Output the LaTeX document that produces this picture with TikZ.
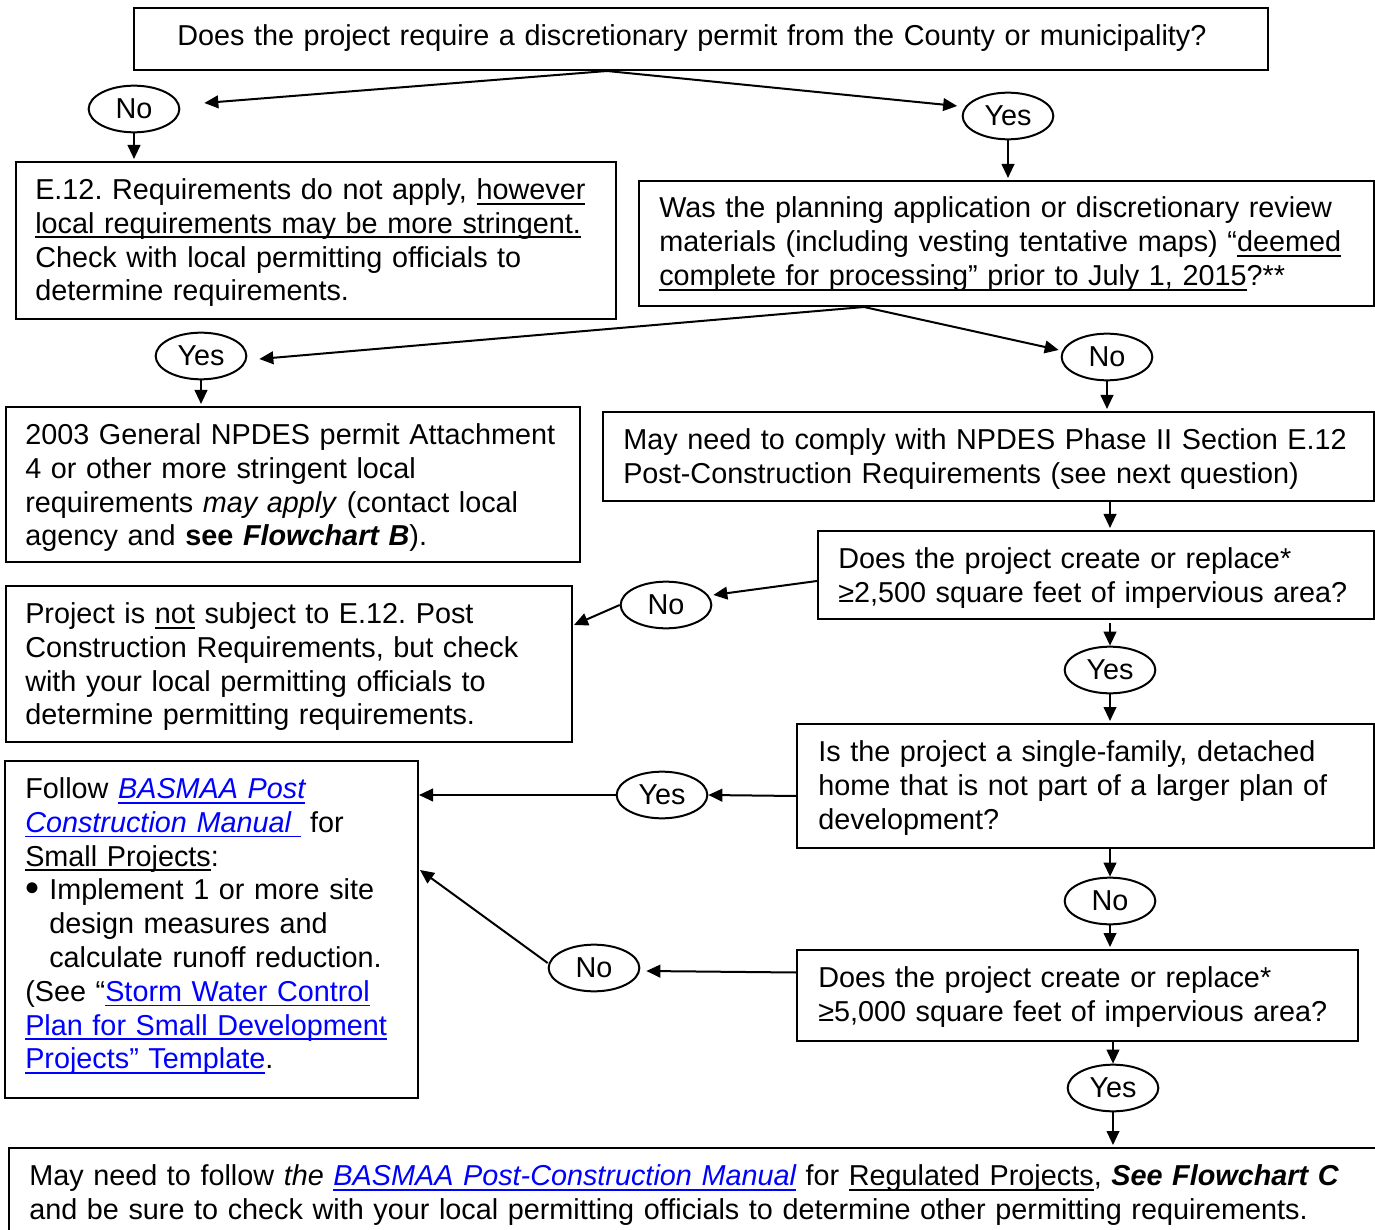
\documentclass[tikz,border=0pt]{standalone}
\usepackage{fontspec}
\setmainfont{Liberation Sans}
\usetikzlibrary{shapes.geometric,arrows.meta,calc}
\definecolor{lnk}{RGB}{0,0,255}
\newsavebox{\ulbox}
\newcommand{\undl}[1]{\leavevmode\sbox{\ulbox}{#1}\rlap{\rule[-3.8pt]{\wd\ulbox}{1.4pt}}\usebox{\ulbox}}
\newcommand{\lnk}[1]{\leavevmode{\color{lnk}\undl{#1}}}
\newcommand{\fsz}{\fontsize{21.6}{25.35}\selectfont\frenchspacing}
\newcommand{\bigbul}{\raisebox{-1.2pt}{\fontsize{30}{30}\selectfont •}}
\begin{document}
\begin{tikzpicture}[x=0.75pt,y=-0.75pt,
  bx/.style={draw, line width=1.5pt, rectangle, inner sep=0pt, anchor=north west},
  sz/.style 2 args={minimum width=#1*0.75pt, minimum height=#2*0.75pt},
  oval/.style={draw, ellipse, line width=1.5pt, minimum width=68pt, minimum height=35pt, inner sep=0pt, font=\fsz},
  txt/.style={anchor=base west, inner sep=0pt, align=left, font=\fsz, text width=#1*0.75pt},
  arr/.style={line width=1.5pt, -{Triangle[length=10.5pt,width=9.5pt]}}]
\useasboundingbox (0,0) rectangle (1375,1230);
\clip (0,0) rectangle (1375,1230);

% boxes
\node[bx, sz={1134}{62}] (q1) at (133,7) {};
\node[bx, sz={600}{157}] (e12) at (15,161) {};
\node[bx, sz={735}{125}] (was) at (638,180) {};
\node[bx, sz={574}{155}] (b2003) at (5,406) {};
\node[bx, sz={771}{89}] (may) at (602,411) {};
\node[bx, sz={556}{88}] (b2500) at (817,530) {};
\node[bx, sz={566}{156}] (proj) at (5,585) {};
\node[bx, sz={577}{124}] (single) at (796,723) {};
\node[bx, sz={561}{91}] (b5000) at (796,949) {};
\node[bx, sz={413}{337}] (follow) at (4,760) {};
\node[bx, sz={1400}{120}] (bottom) at (8,1147) {};

% texts
\node[txt=1100] (tq1) at ([shift={(44,38.5)}]q1.north west) {Does the project require a discretionary permit from the County or municipality?};
\node[txt=590] (te12) at ([shift={(20,38.5)}]e12.north west) {E.12. Requirements do not apply, \undl{however}\\
\undl{local requirements may be more stringent.}\\
Check with local permitting officials to\\
determine requirements.};
\node[txt=715] (twas) at ([shift={(21,38)}]was.north west) {Was the planning application or discretionary review\\
materials (including vesting tentative maps) “\undl{deemed}\\
\undl{complete for processing” prior to July 1, 2015}?**};
\node[txt=560] (t2003) at ([shift={(20,38.5)}]b2003.north west) {2003 General NPDES permit Attachment\\
4 or other more stringent local\\
requirements \textit{may apply} (contact local\\
agency and \textbf{see \textit{Flowchart B}}).};
\node[txt=760] (tmay) at ([shift={(21,38.5)}]may.north west) {May need to comply with NPDES Phase II Section E.12\\
Post-Construction Requirements (see next question)};
\node[txt=540] (t2500) at ([shift={(21,38.5)}]b2500.north west) {Does the project create or replace*\\
≥2,500 square feet of impervious area?};
\node[txt=555] (tproj) at ([shift={(20,38.5)}]proj.north west) {Project is \undl{not} subject to E.12. Post\\
Construction Requirements, but check\\
with your local permitting officials to\\
determine permitting requirements.};
\node[txt=560] (tsingle) at ([shift={(22,38.5)}]single.north west) {Is the project a single-family, detached\\
home that is not part of a larger plan of\\
development?};
\node[txt=545] (t5000) at ([shift={(22,38.5)}]b5000.north west) {Does the project create or replace*\\
≥5,000 square feet of impervious area?};
\node[txt=400] (tfollow) at ([shift={(21,38.5)}]follow.north west) {Follow {\itshape\lnk{BASMAA Post}}\\
{\itshape\lnk{Construction Manual\ }} for\\
\undl{Small Projects}:\\
\makebox[18pt][l]{\bigbul}Implement 1 or more site\\
\hspace*{18pt}design measures and\\
\hspace*{18pt}calculate runoff reduction.\\
(See “\lnk{Storm Water Control}\\
\lnk{Plan for Small Development}\\
\lnk{Projects” Template}.};
\node[txt=1360] (tbottom) at ([shift={(21,38.5)}]bottom.north west) {May need to follow \textit{the} {\itshape\lnk{BASMAA Post-Construction Manual}} for \undl{Regulated Projects}, \textbf{\textit{See Flowchart C}}\\
and be sure to check with your local permitting officials to determine other permitting requirements.};

% ovals
\node[oval] (no1) at (134,109) {No};
\node[oval] (yes1) at (1008,116) {Yes};
\node[oval] (yes2) at (201,356) {Yes};
\node[oval] (no2) at (1107,357) {No};
\node[oval] (no3) at (666,605) {No};
\node[oval] (yes3) at (1110,670) {Yes};
\node[oval] (yes4) at (662,795) {Yes};
\node[oval] (no4) at (1110,901) {No};
\node[oval] (no5) at (594,968) {No};
\node[oval] (yes5) at (1113,1088) {Yes};

% connectors
\draw[arr] ([shift={(-94,0)}]q1.south) -- ([shift={(24,-6)}]no1.east);
\draw[arr] ([shift={(-94,0)}]q1.south) -- ([shift={(-4.5,-10)}]yes1.west);
\draw[arr, shorten >=1.5pt] (no1.south) -- (no1.south |- e12.north);
\draw[arr, shorten >=1.5pt] (yes1.south) -- (yes1.south |- was.north);
\draw[arr] ([shift={(-142.5,0)}]was.south) -- ([shift={(12,3)}]yes2.east);
\draw[arr] ([shift={(-142.5,0)}]was.south) -- ([shift={(-2,-7)}]no2.west);
\draw[arr, shorten >=1.5pt] (yes2.south) -- (yes2.south |- b2003.north);
\draw[arr, shorten >=1.5pt] (no2.south) -- (no2.south |- may.north);
\draw[arr, shorten >=1.5pt] (may.south -| yes3) -- (b2500.north -| yes3);
\draw[arr] ([shift={(0,6)}]b2500.west) -- ([shift={(1,-10)}]no3.east);
\draw[arr] (no3.west) -- ([shift={(1,40)}]proj.north east);
\draw[arr] ([shift={(0,3)}]b2500.south -| yes3) -- (yes3.north);
\draw[arr, shorten >=1.5pt] (yes3.south) -- (single.north -| yes3);
\draw[arr] ([shift={(0,10)}]single.west) -- (yes4.east);
\draw[arr] (yes4.west) -- (yes4.west -| follow.east);
\draw[arr] (single.south -| no4) -- (no4.north);
\draw[arr, shorten >=1.5pt] (no4.south) -- (b5000.north -| no4);
\draw[arr] ([shift={(0,-23)}]b5000.west) -- ([shift={(6,3)}]no5.east);
\draw[arr] ([shift={(0,-5)}]no5.west) -- ([shift={(1,110)}]follow.north east);
\draw[arr] (b5000.south -| yes5) -- (yes5.north);
\draw[arr, shorten >=1.5pt] (yes5.south) -- (bottom.north -| yes5);
\end{tikzpicture}
\end{document}
